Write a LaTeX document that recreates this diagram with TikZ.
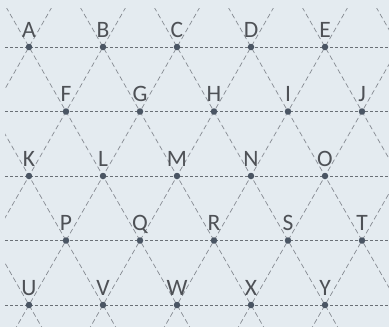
\documentclass[tikz,border=0pt]{standalone}
\usepackage{fontspec}
\setmainfont{Carlito}
\definecolor{bgcol}{HTML}{E4EBF0}
\definecolor{hcol}{HTML}{6A7076}
\definecolor{dcol}{HTML}{858A91}
\definecolor{dotcol}{HTML}{4A5563}
\definecolor{txtcol}{HTML}{4E5156}
\begin{document}
\begin{tikzpicture}[x=1pt,y=-1pt,
  hline/.style={draw=hcol, line width=0.8pt, dash pattern=on 3pt off 2pt},
  diag/.style={draw=dcol, line width=0.7pt, dash pattern=on 5pt off 3pt},
  dot/.style={circle, fill=dotcol, inner sep=0pt, minimum size=6.5pt},
  lbl/.style={anchor=base, text=txtcol, font=\fontsize{23.5}{25}\selectfont, inner sep=0pt}]
\fill[bgcol] (0,0) rectangle (389,327);
\useasboundingbox (0,0) rectangle (389,327);
\begin{scope}
  \clip (5,8) rectangle (389,327);
  \foreach \k in {-5,...,6} {
    \draw[diag] (29+74*\k,47) ++(-222,-387) -- ++(444,774);
    \draw[diag] (29+74*\k,47) ++(222,-387) -- ++(-444,774);
  }
  \foreach \yy in {47,111.5,176,240.5,305}
    \draw[hline] (5,\yy) -- (389,\yy);
\end{scope}
\foreach \n/\xx/\yy in {A/29/47,B/103/47,C/177/47,D/251/47,E/325/47,
  F/66/111.5,G/140/111.5,H/214/111.5,I/288/111.5,J/362/111.5,
  K/29/176,L/103/176,M/177/176,N/251/176,O/325/176,
  P/66/240.5,Q/140/240.5,R/214/240.5,S/288/240.5,T/362/240.5,
  U/29/305,V/103/305,W/177/305,X/251/305,Y/325/305} {
  \node[dot] (\n) at (\xx,\yy) {};
  \node[lbl] (\n lbl) at ([yshift=10pt]\n.center) {\n};
}
\end{tikzpicture}
\end{document}
